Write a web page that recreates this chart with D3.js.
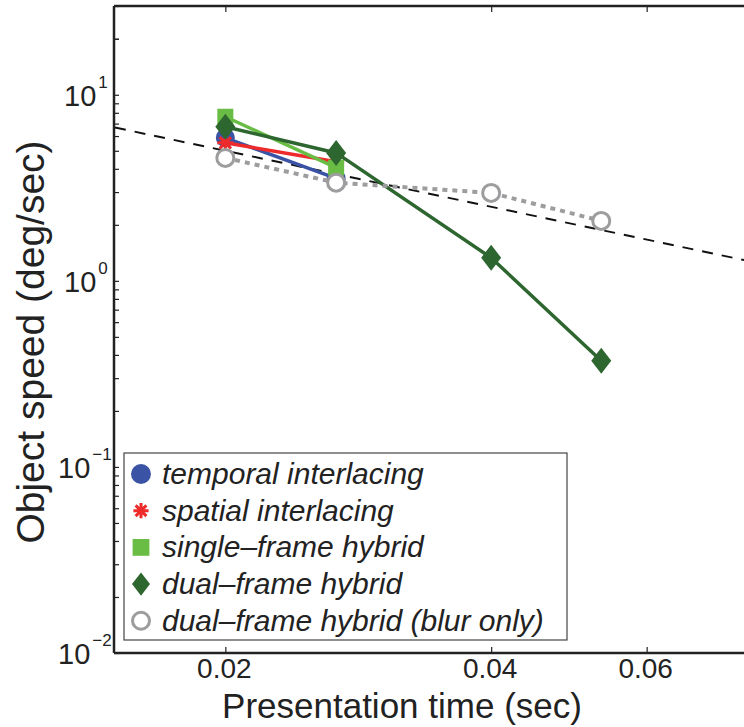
<!DOCTYPE html>
<html>
<head>
<meta charset="utf-8">
<script src="https://cdn.jsdelivr.net/npm/d3@7"></script>
<style>
  body { margin: 0; background: #fff; }
  svg { display: block; font-family: "Liberation Sans", Arial, sans-serif; }
</style>
</head>
<body>
<svg id="svg" width="744" height="727"></svg>
<script>
// presentation time (sec)
var times = [0.02, 0.0267, 0.04, 0.0533];

// object speed (deg/sec) per condition
var temporal = [5.87, 3.55];
var spatial = [5.52, 4.37];
var singleHybrid = [7.62, 4.06];
var dualHybrid = [6.73, 4.87, 1.33, 0.372];
var blurOnly = [4.58, 3.37, 2.97, 2.10];

// reference line speed = 0.1 / time
var refTimes = [0.015, 0.08];
var refSpeed = [6.67, 1.25];

var xTicks = [0.02, 0.04, 0.06];
var yTicks = [0.01, 0.1, 1, 10];
var yExp = ["\u22122", "\u22121", "0", "1"];

var series = [
  { name: "temporal interlacing", vals: temporal, color: "#3a53a4", shape: "circle" },
  { name: "spatial interlacing", vals: spatial, color: "#ee2a2a", shape: "star" },
  { name: "single\u2013frame hybrid", vals: singleHybrid, color: "#69bd45", shape: "square" },
  { name: "dual\u2013frame hybrid", vals: dualHybrid, color: "#2e6630", shape: "diamond" },
  { name: "dual\u2013frame hybrid (blur only)", vals: blurOnly, color: "#9d9d9f", shape: "open" }
];

var svg = d3.select("#svg");
var padding = { left: 114, top: 6, right: 757, bottom: 653 };

var xScale = d3.scaleLog().domain([0.015, 0.08]).range([padding.left + 1, padding.right]);
var yScale = d3.scaleLog().domain([0.01, 30]).range([padding.bottom, padding.top]);

// frame
svg.append("line").attr("x1", padding.left).attr("x2", 744).attr("y1", padding.top).attr("y2", padding.top)
  .attr("stroke", "#222").attr("stroke-width", 2.5);
svg.append("line").attr("x1", padding.left).attr("x2", 744).attr("y1", padding.bottom).attr("y2", padding.bottom)
  .attr("stroke", "#222").attr("stroke-width", 2.5);
svg.append("line").attr("x1", padding.left).attr("x2", padding.left).attr("y1", padding.top).attr("y2", padding.bottom)
  .attr("stroke", "#222").attr("stroke-width", 2.5);

// y ticks, major + minor 2..9
var yMinor = [];
for (var e = -2; e <= 1; e++) {
  for (var m = 1; m <= 9; m++) {
    var v = m * Math.pow(10, e);
    if (v <= 30) yMinor.push(v);
  }
}
yMinor.push(20);
var yAxisG = svg.append("g").attr("transform", "translate(" + padding.left + ",0)");
yAxisG.call(d3.axisRight(yScale).tickValues(yMinor).tickSize(5).tickFormat(""));
yAxisG.select(".domain").remove();
yAxisG.selectAll(".tick line").attr("stroke", "#222").attr("stroke-width", 1.2);

// x ticks bottom and top
var xb = svg.append("g").attr("transform", "translate(0," + padding.bottom + ")")
  .call(d3.axisTop(xScale).tickValues(xTicks).tickSize(6).tickFormat(""));
var xt = svg.append("g").attr("transform", "translate(0," + padding.top + ")")
  .call(d3.axisBottom(xScale).tickValues(xTicks).tickSize(6).tickFormat(""));
[xb, xt].forEach(function (g) {
  g.select(".domain").remove();
  g.selectAll(".tick line").attr("stroke", "#222").attr("stroke-width", 1.2);
});

// x tick labels
svg.selectAll(".xlab").data(xTicks).enter().append("text")
  .attr("x", function (d) { return xScale(d) - 1; })
  .attr("y", 678)
  .attr("text-anchor", "middle")
  .attr("font-size", 28)
  .attr("fill", "#222")
  .text(function (d) { return d.toFixed(2); });

// y tick labels 10^n
var ylab = svg.selectAll(".ylab").data(yTicks).enter().append("text")
  .attr("x", function (d, i) { return yExp[i].length > 1 ? 58 : 64; })
  .attr("y", function (d) { return yScale(d) + 11; })
  .attr("font-size", 29)
  .attr("fill", "#222");
ylab.append("tspan").text("10");
ylab.append("tspan").attr("dx", 2).attr("dy", -18).attr("font-size", 17)
  .text(function (d, i) { return yExp[i]; });

// axis titles
svg.append("text").attr("x", 402).attr("y", 718).attr("text-anchor", "middle")
  .attr("font-size", 35).attr("fill", "#222").text("Presentation time (sec)");
svg.append("text").attr("transform", "translate(44,342) rotate(-90)").attr("text-anchor", "middle")
  .attr("font-size", 39).attr("fill", "#222").text("Object speed (deg/sec)");

// plot area
var plot = svg.append("g");

// reference dashed line
var refLine = d3.line()
  .x(function (d, i) { return xScale(refTimes[i]); })
  .y(function (d) { return yScale(d); });
plot.append("path").datum(refSpeed).attr("d", refLine)
  .attr("fill", "none").attr("stroke", "#111").attr("stroke-width", 2)
  .attr("stroke-dasharray", "11,9");

var line = d3.line()
  .x(function (d, i) { return xScale(times[i]); })
  .y(function (d) { return yScale(d); });

function drawMarker(g, shape, color, x, y, scale) {
  scale = scale || 1;
  if (shape === "circle") {
    g.append("circle").attr("cx", x).attr("cy", y).attr("r", 9.5 * scale).attr("fill", color);
  } else if (shape === "open") {
    g.append("circle").attr("cx", x).attr("cy", y).attr("r", 8.5 * scale)
      .attr("fill", "#fff").attr("stroke", color).attr("stroke-width", 3);
  } else if (shape === "square") {
    var s = 16 * scale;
    g.append("rect").attr("x", x - s / 2).attr("y", y - s / 2).attr("width", s).attr("height", s).attr("fill", color);
  } else if (shape === "diamond") {
    var w = 10 * scale, h = 13 * scale;
    g.append("path").attr("d", "M" + x + "," + (y - h) + "L" + (x + w) + "," + y + "L" + x + "," + (y + h) + "L" + (x - w) + "," + y + "Z")
      .attr("fill", color);
  } else if (shape === "star") {
    var r = 8 * scale;
    var d = "";
    for (var k = 0; k < 4; k++) {
      var a = k * Math.PI / 4;
      d += "M" + (x - r * Math.cos(a)) + "," + (y - r * Math.sin(a)) + "L" + (x + r * Math.cos(a)) + "," + (y + r * Math.sin(a));
    }
    g.append("path").attr("d", d).attr("stroke", color).attr("stroke-width", 3);
  }
}

series.forEach(function (s) {
  var g = plot.append("g");
  g.append("path").datum(s.vals).attr("d", line)
    .attr("fill", "none").attr("stroke", s.color)
    .attr("stroke-width", s.shape === "open" ? 4 : 3.5)
    .attr("stroke-dasharray", s.shape === "open" ? "5,5" : null);
  s.vals.forEach(function (v, i) {
    drawMarker(g, s.shape, s.color, xScale(times[i]), yScale(v));
  });
});

// legend
var leg = svg.append("g");
leg.append("rect").attr("x", 124).attr("y", 453).attr("width", 443).attr("height", 187)
  .attr("fill", "#fff").attr("stroke", "#444").attr("stroke-width", 1.2);
series.forEach(function (s, i) {
  var cy = 474 + i * 36.7;
  var sc = { circle: 1.05, star: 0.95, square: 1.05, diamond: 0.9, open: 1.0 }[s.shape];
  drawMarker(leg, s.shape, s.color, 141, cy, sc);
  leg.append("text").attr("x", 162).attr("y", cy + 10).attr("font-size", 30)
    .attr("font-style", "italic").attr("fill", "#222").text(s.name);
});
</script>
</body>
</html>
